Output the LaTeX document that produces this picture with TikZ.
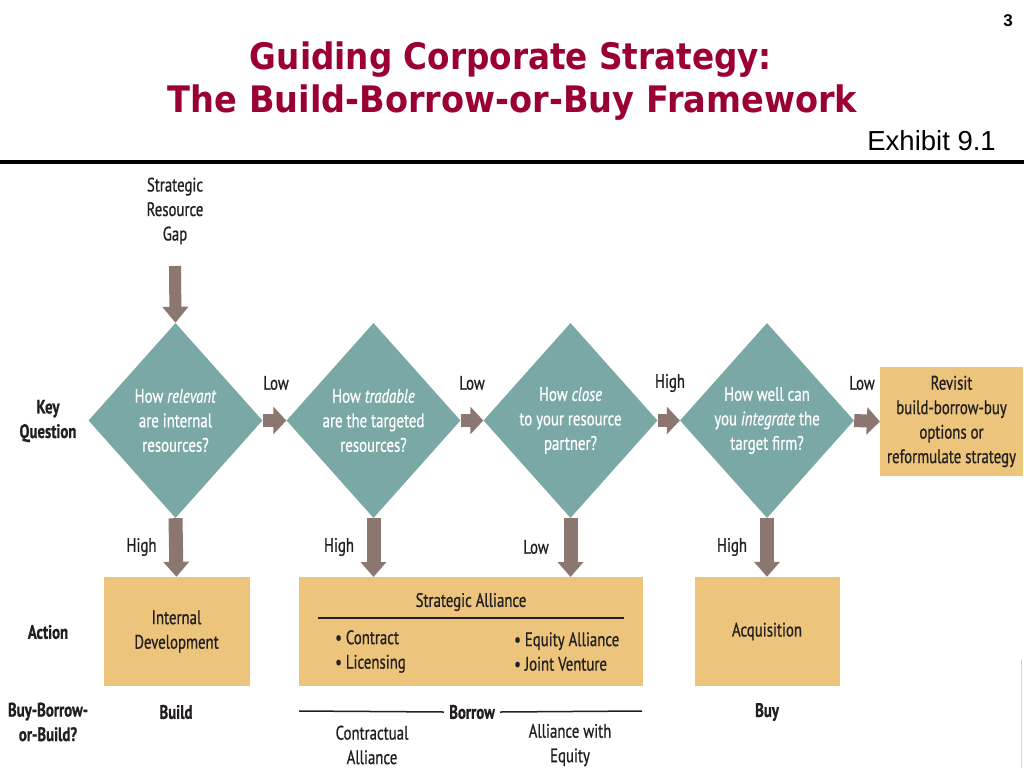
\documentclass[tikz,border=0pt]{standalone}
\usepackage{fontspec}
\usepackage{graphicx}
\usetikzlibrary{shapes.geometric,arrows.meta}
\newfontfamily\dfont[FakeStretch=0.76,FakeBold=0.7]{PT Sans}
\newfontfamily\tfont{DejaVu Sans}
\newfontfamily\afont{Liberation Sans}
\definecolor{dteal}{RGB}{122,168,165}
\definecolor{dgold}{RGB}{236,196,124}
\definecolor{darr}{RGB}{140,118,112}
\definecolor{dtxt}{RGB}{35,31,32}
\definecolor{dtitle}{RGB}{155,0,50}
\begin{document}
\begin{tikzpicture}[x=1pt,y=-1pt,
  diam/.style={diamond,fill=dteal,draw=none,minimum width=174pt,minimum height=195pt,inner sep=0pt},
  qtext/.style={text=white,align=center,font=\dfont\fontsize{19.5}{24.5}\selectfont,inner sep=0pt},
  lbl/.style={text=dtxt,align=center,font=\dfont\fontsize{19.5}{24.5}\selectfont,inner sep=0pt},
  blbl/.style={text=dtxt,align=center,font=\dfont\bfseries\fontsize{19.5}{24.5}\selectfont,inner sep=0pt},
  gbox/.style={rectangle,fill=dgold,draw=none,inner sep=0pt},
  harr/.style={draw=darr,line width=13pt,-{Triangle[length=13pt,width=27pt]}},
  varr/.style={draw=darr,line width=14pt,-{Triangle[length=15pt,width=25pt]}},
  thinrule/.style={draw=dtxt,line width=1.5pt}
]
\useasboundingbox (0,0) rectangle (1024,768);
\fill[white] (0,0) rectangle (1024,768);

% header
\node[font=\afont\bfseries\fontsize{17}{20}\selectfont,inner sep=0pt,anchor=base] (pnum) at (1008,27) {3};
\node[font=\tfont\bfseries\fontsize{36.5}{40}\selectfont,text=dtitle,inner sep=0pt,anchor=base] (title1) at (511,70)
  {\resizebox{522pt}{\height}{Guiding Corporate Strategy:}};
\node[font=\tfont\bfseries\fontsize{36.5}{40}\selectfont,text=dtitle,inner sep=0pt,anchor=base] (title2) at (512.5,112)
  {\resizebox{689pt}{\height}{The Build-Borrow-or-Buy Framework}};
\node[font=\afont\fontsize{27.5}{30}\selectfont,inner sep=0pt,anchor=base east] (exh) at (996,150) {Exhibit 9.1};
\coordinate (ruleL) at (0,162);
\coordinate (ruleR) at (1024,162);
\draw[line width=4pt,black] (ruleL) -- (ruleR);
\coordinate (edgeT) at (1021,660);
\coordinate (edgeB) at (1021,768);
\draw[gray!35,line width=1pt] (edgeT) -- (edgeB);

% start
\node[lbl] (gap) at (175,211) {Strategic\\Resource\\Gap};
\coordinate (gapend) at (175,266);

% diamonds
\node[diam] (d1) at (175.5,420.5) {};
\node[diam] (d2) at (373.5,420.5) {};
\node[diam] (d3) at (570.5,420.5) {};
\node[diam] (d4) at (767,420.5) {};
\node[qtext] (q1) at (d1.center) {How \textit{relevant}\\are internal\\resources?};
\node[qtext] (q2) at (d2.center) {How \textit{tradable}\\are the targeted\\resources?};
\node[qtext] (q3) at (d3.center) {How \textit{close}\\to your resource\\partner?};
\node[qtext] (q4) at (d4.center) {How well can\\you \textit{integrate} the\\target firm?};

% revisit box
\node[gbox,minimum width=143pt,minimum height=109pt] (rev) at (951.5,421.5) {};
\node[lbl] (revt) at (rev.center) {Revisit\\build-borrow-buy\\options or\\reformulate strategy};

% action boxes
\node[gbox,minimum width=146pt,minimum height=109pt] (b1) at (176.5,631.5) {};
\node[gbox,minimum width=344pt,minimum height=109pt] (b2) at (471,631.5) {};
\node[gbox,minimum width=145pt,minimum height=109pt] (b4) at (767,631.5) {};
\coordinate (b2l) at (373.5,577);
\coordinate (b2r) at (570.5,577);
\node[lbl] (b1t) at (b1.center) {Internal\\Development};
\node[lbl] (b4t) at (b4.center) {Acquisition};
\node[lbl] (sat) at (471,602) {Strategic Alliance};
\coordinate (saL) at (318,618);
\coordinate (saR) at (624,618);
\draw[thinrule] (saL) -- (saR);
\node[lbl,align=left,anchor=west] (bl) at (335,651.5) {\textbullet\ Contract\\\textbullet\ Licensing};
\node[lbl,align=left,anchor=west] (br) at (514,651.5) {\textbullet\ Equity Alliance\\\textbullet\ Joint Venture};

% arrows
\draw[varr,-{Triangle[length=16pt,width=25pt]},line width=12pt] (gapend) -- (d1.north);
\draw[harr] (d1.east) -- (d2.west);
\draw[harr] (d2.east) -- (d3.west);
\draw[harr] (d3.east) -- (d4.west);
\draw[harr] (d4.east) -- (rev.west);
\draw[varr] (d1.south) -- (b1.north);
\draw[varr] (d2.south) -- (b2l);
\draw[varr] (d3.south) -- (b2r);
\draw[varr] (d4.south) -- (b4.north);

% arrow labels
\node[lbl] (l1) at (276,383) {Low};
\node[lbl] (l2) at (472,383) {Low};
\node[lbl] (l3) at (670,383) {High};
\node[lbl] (l4) at (862,383) {Low};
\node[lbl] (h1) at (141.5,547) {High};
\node[lbl] (h2) at (339,547) {High};
\node[lbl] (h3) at (536,547) {Low};
\node[lbl] (h4) at (732,547) {High};

% left column
\node[blbl] (kq) at (48,421) {Key\\Question};
\node[blbl] (act) at (48,632) {Action};
\node[blbl] (bbb) at (48,722) {Buy-Borrow-\\or-Build?};

% bottom row
\node[blbl] (build) at (176,712) {Build};
\node[blbl] (borrow) at (472,712) {Borrow};
\node[blbl] (buy) at (767,712) {Buy};
\coordinate (bwL) at (299,711);
\coordinate (bwR) at (642,711);
\draw[thinrule] (bwL) -- ([xshift=-5pt]borrow.west);
\draw[thinrule] ([xshift=5pt]borrow.east) -- (bwR);
\node[lbl] (ca) at (372,745) {Contractual\\Alliance};
\node[lbl] (ae) at (570,745) {Alliance with\\Equity};
\end{tikzpicture}
\end{document}
